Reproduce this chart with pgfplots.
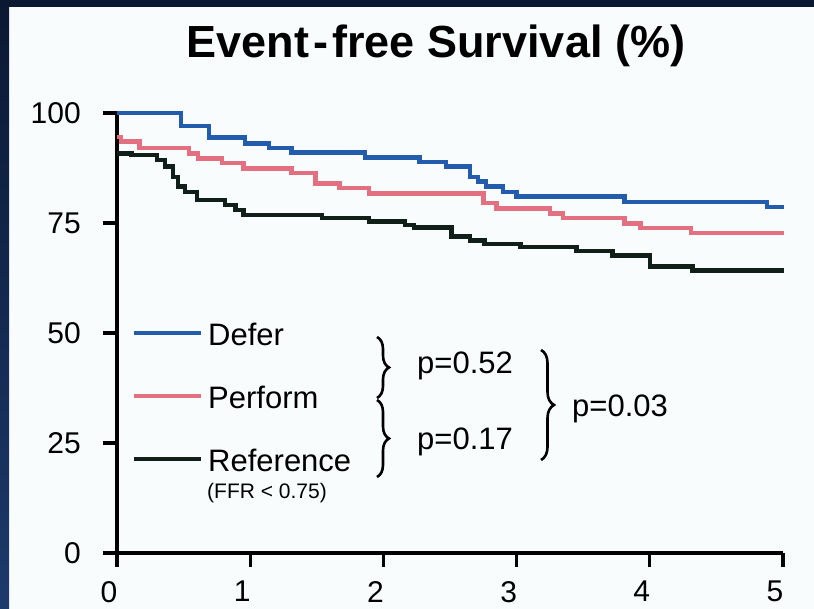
\documentclass[border=0pt]{standalone}
\usepackage{pgfplots}
\pgfplotsset{compat=1.18}
\usepackage{fontspec}
\setmainfont{Liberation Sans}
\usetikzlibrary{decorations.pathreplacing}

\definecolor{defer}{RGB}{35,92,172}
\definecolor{perform}{RGB}{226,112,128}
\definecolor{reference}{RGB}{16,32,24}
\definecolor{panel}{RGB}{249,252,252}
\definecolor{frametop}{RGB}{11,24,50}
\definecolor{framebot}{RGB}{28,58,108}

\newcommand{\labelfont}{\fontsize{30bp}{30bp}\selectfont}
\newcommand{\legendfont}{\fontsize{31bp}{31bp}\selectfont}

\begin{document}
\begin{tikzpicture}
\useasboundingbox (0,0) rectangle (814bp,609bp);
% slide background and frame
\fill[panel] (0,0) rectangle (814bp,609bp);
\shade[top color=frametop, bottom color=framebot] (0,0) rectangle (9bp,609bp);
\fill[frametop] (0,602bp) rectangle (814bp,609bp);

% title
\node[anchor=base, inner sep=0pt, font=\fontsize{45bp}{45bp}\selectfont\bfseries]
  at (436bp,551bp) {Event\kern4bp-\kern4bp free Survival (\%)};

\begin{axis}[
  at={(117bp,56bp)}, anchor=south west,
  scale only axis, width=666bp, height=440bp,
  xmin=0, xmax=5, ymin=0, ymax=100,
  clip=false,
  axis lines=left,
  axis line style={-, line width=3.4bp, black},
  xtick={0,1,2,3,4,5}, ytick={0,25,50,75,100},
  tick align=outside, major tick length=14bp,
  major tick style={line width=3.2bp, black},
  ticklabel style={font=\labelfont, /pgf/number format/assume math mode=true, inner sep=0pt},
  yticklabel style={xshift=-22bp},
  xticklabel style={yshift=-14bp, xshift=-8bp},
  legend cell align=left,
  legend style={
    at={(axis cs:0.115,52.7)}, anchor=north west,
    draw=none, fill=none, inner sep=0pt, outer sep=0pt,
    font=\legendfont, row sep=39bp,
    nodes={inner sep=0pt, text height=24bp, text depth=0bp},
  },
  legend image code/.code={\draw[#1, line width=3.4bp] (0bp,0bp) -- (67bp,0bp); \path (72bp,0bp);},
]
% Defer
\addplot[const plot, defer, line width=4.4bp] coordinates {
  (0,100) (0.48,97) (0.69,94.4) (0.96,93.1) (1.14,92) (1.31,91) (1.86,89.9)
  (2.27,88.9) (2.47,87.8) (2.65,85.5) (2.71,84.4) (2.77,83.3) (2.90,82.1)
  (3.00,81.0) (3.81,79.8) (4.88,78.7) (5.01,78.7)
};
\addlegendentry{Defer}
% Perform
\addplot[const plot, perform, line width=4.4bp] coordinates {
  (0,94.6) (0.03,93.5) (0.17,92) (0.54,90.8) (0.61,89.7) (0.79,88.6) (0.95,87.4)
  (1.31,86.3) (1.49,84.0) (1.67,82.9) (1.89,81.7) (2.75,79.5) (2.85,78.3)
  (3.25,77.2) (3.35,76.1) (3.81,74.9) (3.93,73.8) (4.31,72.7) (5.01,72.7)
};
\addlegendentry{Perform}
% Reference (FFR < 0.75)
\addplot[const plot, reference, line width=4.4bp] coordinates {
  (0,90.8) (0.11,90.5) (0.30,89.3) (0.36,87.8) (0.42,85.5) (0.46,83.3) (0.51,82.1)
  (0.60,80.2) (0.81,79.1) (0.89,78.0) (0.95,76.8) (1.54,76.1) (1.89,75.3)
  (2.16,74.5) (2.23,74.0) (2.51,71.9) (2.65,71.0) (2.76,70.2) (3.03,69.6)
  (3.45,68.7) (3.72,67.6) (4.00,65.1) (4.32,64.2) (5.01,64.2)
};
\addlegendentry{Reference}
\end{axis}

% subtitle under the reference entry
\node[anchor=base west, inner sep=0pt, font=\fontsize{21bp}{21bp}\selectfont]
  at (207bp,110bp) {(FFR < 0.75)};

% pairwise comparisons
\draw[line width=2.6bp, decorate, decoration={brace, amplitude=12bp}]
  (377bp,272bp) -- (377bp,211bp);
\draw[line width=2.6bp, decorate, decoration={brace, amplitude=12bp}]
  (377bp,209bp) -- (377bp,132bp);
\draw[line width=2.6bp, decorate, decoration={brace, amplitude=13bp}]
  (541bp,259bp) -- (541bp,149bp);
\node[anchor=base west, inner sep=0pt, font=\legendfont] at (417bp,235bp) {p=0.52};
\node[anchor=base west, inner sep=0pt, font=\legendfont] at (417bp,159bp) {p=0.17};
\node[anchor=base west, inner sep=0pt, font=\legendfont] at (572bp,192bp) {p=0.03};
\end{tikzpicture}
\end{document}
